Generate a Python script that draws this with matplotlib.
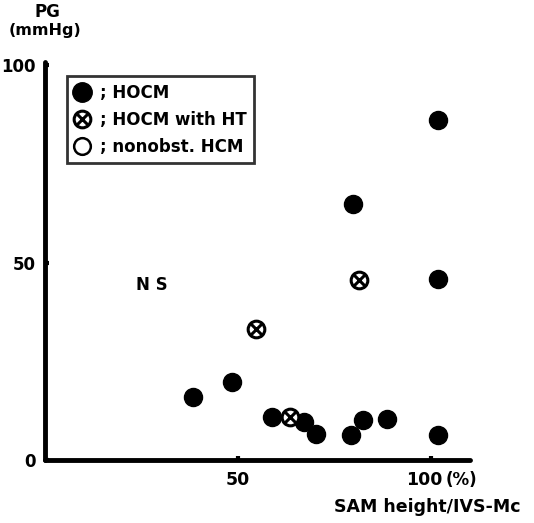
import matplotlib
matplotlib.use("Agg")
import matplotlib.pyplot as plt
import matplotlib.transforms as mtransforms
from matplotlib.lines import Line2D

# 数据: SAM height/IVS-Mc (%) vs PG (mmHg)
hocm_x = [38.3, 48.4, 58.8, 67.1, 70.2, 79.3, 82.3, 88.5, 101.7, 79.8, 101.6, 101.8]
hocm_y = [15.9, 19.7, 10.9, 9.6, 6.6, 6.3, 10.1, 10.4, 6.4, 64.8, 86.0, 45.8]
ht_x = [54.7, 63.5, 81.3]
ht_y = [33.1, 10.9, 45.6]

xticks = [50, 100]
xtick_labels = ["50", "100"]
yticks = [0, 50, 100]
ytick_labels = ["0", "50", "100"]
legend_labels = ["; HOCM", "; HOCM with HT", "; nonobst. HCM"]

plt.rcParams['font.family'] = ['DejaVu Sans']
plt.rcParams['font.weight'] = 'bold'

fig = plt.figure(figsize=(5.34, 5.23), dpi=100)
ax = fig.add_axes([45 / 534, 63 / 523, 425 / 534, 398 / 523])
ax.set_xlim(0, 110)
ax.set_ylim(0, 100.8)

ax.plot(hocm_x, hocm_y, 'o', ms=13, color='black', mec='black', clip_on=False)
ax.plot(ht_x, ht_y, 'o', ms=12, mfc='white', mec='black', mew=2.2, clip_on=False)
ax.plot(ht_x, ht_y, 'x', ms=8, color='black', mew=2.2, clip_on=False)

for side in ['top', 'right']:
    ax.spines[side].set_visible(False)
for side in ['left', 'bottom']:
    ax.spines[side].set_linewidth(3.5)
    ax.spines[side].set_capstyle('round')

ax.set_xticks(xticks)
ax.set_xticklabels(xtick_labels)
ax.set_yticks(yticks)
ax.set_yticklabels(ytick_labels)
ax.tick_params(direction='in', length=3, width=3, labelsize=12.5, pad=8)
ax.tick_params(axis='y', labelsize=12, pad=7)
for lab in ax.get_xticklabels() + ax.get_yticklabels():
    lab.set_fontweight('bold')
# 原图中 "100" 稍微偏左
lab100 = ax.get_xticklabels()[1]
lab100.set_transform(lab100.get_transform() + mtransforms.ScaledTranslation(-7 / 100, 0, fig.dpi_scale_trans))

fig.text(446 / 534, 1 - 480 / 523, "(%)", ha='left', va='center', fontsize=12, fontweight='bold')
fig.text(47 / 534, 1 - 12 / 523, "PG", ha='center', va='center', fontsize=12, fontweight='bold')
fig.text(45 / 534, 1 - 31 / 523, "(mmHg)", ha='center', va='center', fontsize=11.5, fontweight='bold')
fig.text(520 / 534, 1 - 507 / 523, "SAM height/IVS-Mc", ha='right', va='center', fontsize=12.5, fontweight='bold')
fig.text(152 / 534, 1 - 285 / 523, "N S", ha='center', va='center', fontsize=12, fontweight='bold')

# 图例
h1 = Line2D([], [], marker='o', ls='', ms=14, color='black')
h2a = Line2D([], [], marker='o', ls='', ms=12, mfc='white', mec='black', mew=2.2)
h2b = Line2D([], [], marker='x', ls='', ms=8, color='black', mew=2.2)
h3 = Line2D([], [], marker='o', ls='', ms=12, mfc='white', mec='black', mew=1.8)
leg = ax.legend([h1, (h2a, h2b), h3], legend_labels, loc='upper left',
                bbox_to_anchor=(22 / 425, 1 - 14 / 398), borderaxespad=0,
                frameon=True, fancybox=False,
                edgecolor='black', handlelength=0.9, handletextpad=0.6,
                borderpad=0.45, labelspacing=0.55, prop={'size': 12, 'weight': 'bold'})
leg.get_frame().set_linewidth(2)

fig.savefig("out.png", dpi=100)
